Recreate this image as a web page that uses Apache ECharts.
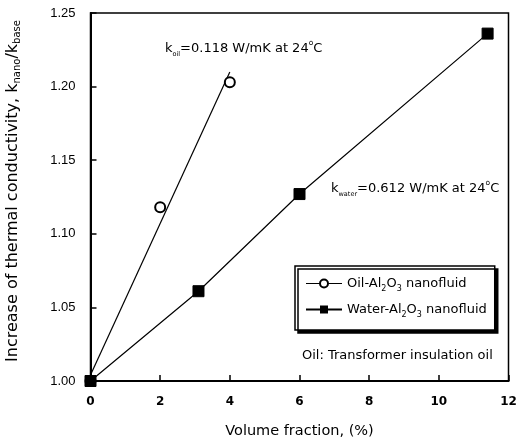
<!DOCTYPE html>
<html>
<head>
<meta charset="utf-8">
<script src="https://cdn.jsdelivr.net/npm/echarts@6/dist/echarts.min.js"></script>
<style>
html,body{margin:0;padding:0;background:#fff;}
#chart{width:516px;height:444px;}
</style>
</head>
<body>
<div id="chart"></div>
<script>
// Data
const oilX = [0, 2.0, 4.0];
const oilY = [1.0, 1.118, 1.203];
const oilFitX = [0, 4.0];
const oilFitY = [1.004, 1.21];
const waterX = [0, 3.1, 6.0, 11.4];
const waterY = [1.0, 1.061, 1.127, 1.236];
const xTicks = [0, 2, 4, 6, 8, 10, 12];
const yTicks = [1.00, 1.05, 1.10, 1.15, 1.20, 1.25];

const seriesNames = ['Oil-Al2O3 nanofluid', 'Water-Al2O3 nanofluid'];
const FONT = "'Liberation Sans', Arial, sans-serif";
const WFONT = "'DejaVu Sans', sans-serif";

const zip = (xs, ys) => xs.map((x, i) => [x, ys[i]]);

const chart = echarts.init(document.getElementById('chart'));
const sub = (fs) => ({ fontSize: fs, lineHeight: fs, verticalAlign: 'bottom', fontFamily: WFONT, color: '#000' });
const sup = (fs) => ({ fontSize: fs, lineHeight: fs, verticalAlign: 'top', fontFamily: WFONT, color: '#000' });
const main = (fs, lh) => ({ fontSize: fs, lineHeight: lh, fontFamily: WFONT, color: '#000' });

chart.setOption({
  animation: false,
  backgroundColor: '#fff',
  grid: { left: 90.5, right: 7.5, top: 13, bottom: 63, containLabel: false, outerBoundsMode: 'none',
    show: true, borderColor: '#000', borderWidth: 1.5, backgroundColor: 'transparent' },
  xAxis: {
    type: 'value', min: xTicks[0], max: xTicks[xTicks.length - 1], interval: 2,
    name: 'Volume fraction, (%)', nameLocation: 'middle', nameGap: 43,
    nameTextStyle: { fontFamily: WFONT, fontSize: 14.5, color: '#000' },
    axisLine: { show: true, lineStyle: { color: '#000', width: 2 } },
    axisTick: { show: true, inside: true, length: 6, lineStyle: { color: '#000', width: 1.5 } },
    axisLabel: { fontFamily: WFONT, fontSize: 12, fontWeight: 'bold', color: '#000', margin: 15 },
    splitLine: { show: false }
  },
  yAxis: {
    type: 'value', min: yTicks[0], max: yTicks[yTicks.length - 1], interval: 0.05,
    name: '{m|Increase of thermal conductivity, k}{s|nano}{m|/k}{s|base}',
    nameLocation: 'middle', nameGap: 68, nameRotate: 90,
    nameTextStyle: { fontFamily: WFONT, fontSize: 16, color: '#000', padding: [0, 0, 0, 12],
      rich: { m: main(16, 20), s: sub(10) } },
    axisLine: { show: true, lineStyle: { color: '#000', width: 2 } },
    axisTick: { show: true, inside: true, length: 6, lineStyle: { color: '#000', width: 1.5 } },
    axisLabel: { fontFamily: FONT, fontSize: 13, color: '#000', margin: 15, formatter: v => v.toFixed(2) },
    splitLine: { show: false }
  },
  legend: {
    orient: 'vertical', left: 295, top: 266,
    padding: [8, 8, 11, 10], itemGap: 7, itemWidth: 36, itemHeight: 10,
    backgroundColor: '#fff', borderColor: '#000', borderWidth: 1.5,
    shadowColor: '#000', shadowBlur: 0, shadowOffsetX: 3, shadowOffsetY: 3,
    data: [
      { name: seriesNames[0], lineStyle: { color: '#000', width: 1.2, opacity: 1 } },
      { name: seriesNames[1] }
    ],
    formatter: n => n.replace('Al2O3', 'Al{s|2}O{s|3}'),
    textStyle: { fontFamily: WFONT, fontSize: 13, color: '#000', lineHeight: 19,
      rich: { s: sub(8) } }
  },
  series: [
    {
      name: seriesNames[0], type: 'line', data: zip(oilX, oilY),
      symbol: 'emptyCircle', symbolSize: 10,
      lineStyle: { width: 0, opacity: 0 },
      itemStyle: { color: '#000', borderColor: '#000', borderWidth: 1.5 },
      z: 3
    },
    {
      name: 'oilFit', type: 'line', data: zip(oilFitX, oilFitY),
      symbol: 'none', lineStyle: { color: '#000', width: 1.2 }, z: 2
    },
    {
      name: seriesNames[1], type: 'line', data: zip(waterX, waterY),
      symbol: 'rect', symbolSize: 11,
      lineStyle: { color: '#000', width: 1.2 },
      itemStyle: { color: '#000', borderColor: '#000' },
      z: 4
    }
  ],
  graphic: [
    {
      type: 'text', left: 165, top: 39, z: 10,
      style: {
        text: '{m|k}{s|oil}{m|=0.118 W/mK at 24}{p|o}{m|C}',
        rich: { m: main(13, 19), s: sub(6.5), p: sup(7.5) }
      }
    },
    {
      type: 'text', left: 331, top: 179, z: 10,
      style: {
        text: '{m|k}{s|water}{m|=0.612 W/mK at 24}{p|o}{m|C}',
        rich: { m: main(13, 19), s: sub(6.5), p: sup(7.5) }
      }
    },
    {
      type: 'text', left: 302, top: 349, z: 10,
      style: { text: 'Oil: Transformer insulation oil', font: '13px ' + WFONT, fill: '#000' }
    }
  ]
});
</script>
</body>
</html>
